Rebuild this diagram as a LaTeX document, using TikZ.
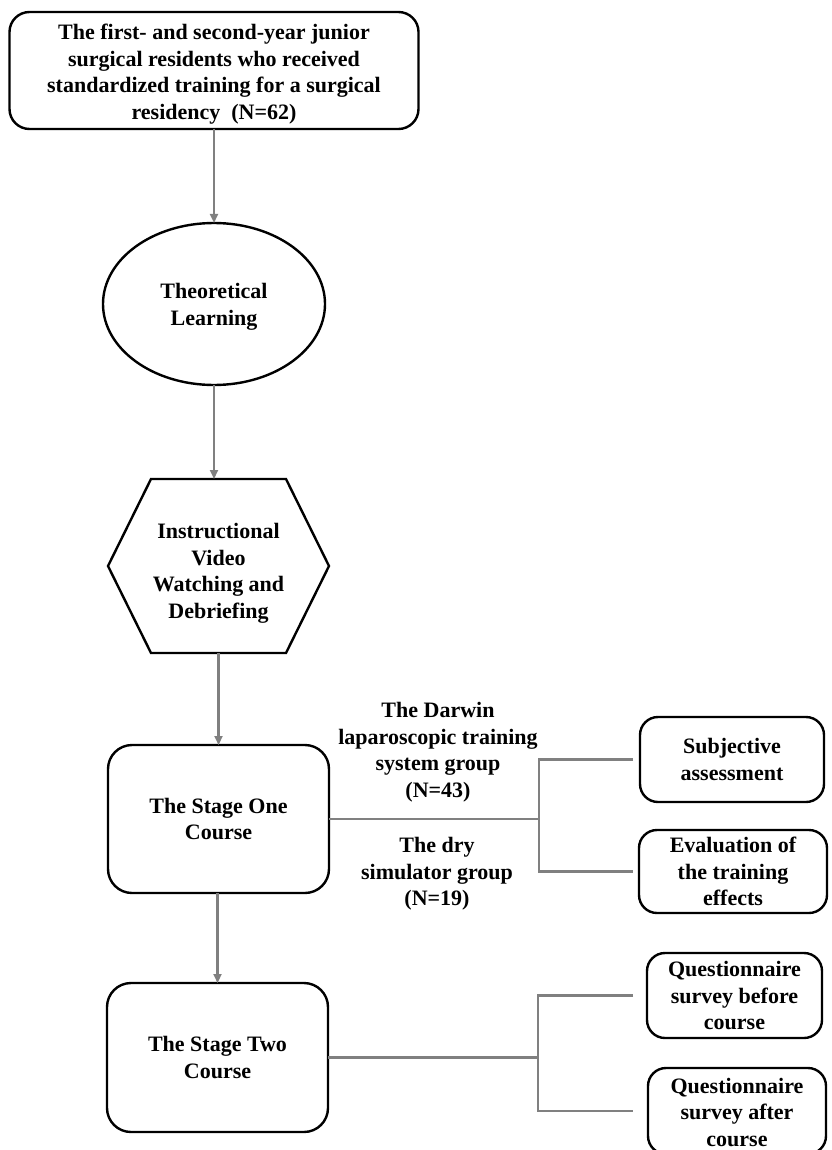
\documentclass[tikz,border=0pt]{standalone}
\usepackage{fontspec}
\setmainfont{Liberation Serif}
\usetikzlibrary{arrows.meta,shapes.geometric}
\definecolor{conngray}{RGB}{128,128,128}
\tikzset{
  txt/.style={font=\fontsize{22pt}{26.5pt}\selectfont\bfseries, align=center, inner sep=0pt},
  boxstyle/.style={txt, draw=black, line width=2.4pt, rounded corners=#1, outer sep=0pt},
  boxstyle/.default=20pt,
  shapeonly/.style={draw=black, line width=2.4pt, inner sep=0pt, outer sep=0pt},
  conn/.style={draw=conngray, line width=2.2pt},
  arr/.style={conn, -{Triangle[length=9pt,width=8pt]}},
}
\begin{document}
\begin{tikzpicture}[x=1pt,y=-1pt]
\useasboundingbox (0,0) rectangle (831,1150);
% left column
\node[shapeonly, rounded corners=20pt, minimum width=409pt, minimum height=117pt] (top) at (214,70.5) {};
\node[txt] (toptxt) at (214,74)
  {The first- and second-year junior\\surgical residents who received\\standardized training for a surgical\\residency\ \ (N=62)};
\node[shapeonly, ellipse, minimum width=222pt, minimum height=162pt] (ell) at (214,304) {};
\node[txt] (elltxt) at (214,307) {Theoretical\\Learning};
\node[minimum width=221pt, minimum height=174pt, inner sep=0pt, outer sep=0pt] (hex) at (218.5,566) {};
\node[txt] (hextxt) at (218.5,573.5) {Instructional\\Video\\Watching and\\Debriefing};
\draw[line width=2.4pt, line join=miter] (hex.west) -- ([xshift=-67.5pt]hex.north) -- ([xshift=67.5pt]hex.north) -- (hex.east) -- ([xshift=67.5pt]hex.south) -- ([xshift=-67.5pt]hex.south) -- cycle;
\node[boxstyle=24pt, minimum width=221pt, minimum height=148pt] (s1) at (218.5,819)
  {The Stage One\\Course};
\node[boxstyle=24pt, minimum width=221pt, minimum height=149pt] (s2) at (217.5,1057.5)
  {The Stage Two\\Course};
% right boxes
\node[boxstyle=18pt, minimum width=184pt, minimum height=85pt] (subj) at (732,759.5)
  {Subjective\\assessment};
\node[boxstyle=18pt, minimum width=188pt, minimum height=83pt] (eval) at (733,871.5)
  {Evaluation of\\the training\\effects};
\node[boxstyle=18pt, minimum width=175pt, minimum height=85pt] (qb) at (734.5,995.5)
  {Questionnaire\\survey before\\course};
\node[shapeonly, rounded corners=18pt, minimum width=178pt, minimum height=86pt] (qa) at (737,1111) {};
\node[txt] (qatxt) at (737,1112) {Questionnaire\\survey after\\course};
% group labels
\node[txt] (darwin) at (438,752) {The Darwin\\laparoscopic training\\system group\\(N=43)};
\node[txt] (dry) at (437,874) {The dry\\simulator group\\(N=19)};
% arrows
\draw[arr] (top.south) -- (ell.north);
\draw[arr] (ell.south) -- (ell.south |- hex.north);
\draw[arr] (hex.south) -- (hex.south |- s1.north);
\draw[arr] ([xshift=-1pt]s1.south) -- (s2.north);
% brackets
\coordinate (j1) at (539,817);
\coordinate (j2) at (538,1057);
\draw[conn] (s1.east) -- (s1.east -| j1);
\draw[conn] ([xshift=-7pt]subj.west) -| (j1) |- ([xshift=-6pt]eval.west);
\draw[conn] (s2.east) -- (s2.east -| j2);
\draw[conn] ([xshift=-14pt]qb.west) -| (j2) |- ([xshift=-15pt]qa.west);
\end{tikzpicture}
\end{document}
